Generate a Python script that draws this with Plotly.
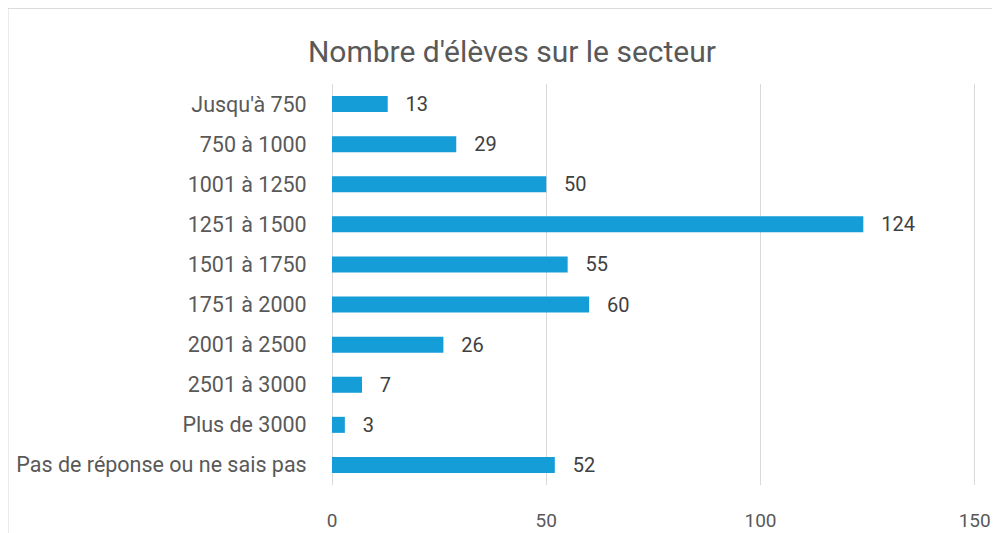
import plotly.graph_objects as go

categories = ["Jusqu'à 750", "750 à 1000", "1001 à 1250", "1251 à 1500", "1501 à 1750",
              "1751 à 2000", "2001 à 2500", "2501 à 3000", "Plus de 3000",
              "Pas de réponse ou ne sais pas"]
values = [13, 29, 50, 124, 55, 60, 26, 7, 3, 52]
tick_vals = [0, 50, 100, 150]

bar_color = "#159dd8"
text_color = "#595959"
font_family = "Roboto, Arial, sans-serif"

fig = go.Figure(go.Bar(
    y=categories, x=values, orientation="h",
    marker=dict(color=bar_color, line=dict(width=0)),
    width=0.4,
    text=values,
    texttemplate="\u00a0\u00a0\u00a0%{x}",
    textposition="outside",
    constraintext="none",
    textfont=dict(size=20, color="#404040", family=font_family),
    cliponaxis=False,
))

# page body has an 8px margin: figure occupies 8..1000 x 8..533
fig.update_layout(
    width=992, height=525,
    margin=dict(l=324, r=24, t=76, b=48, autoexpand=False),
    paper_bgcolor="white", plot_bgcolor="white",
    title=dict(text="Nombre d'élèves sur le secteur", x=0.508, xanchor="center",
               y=0.918, yanchor="middle",
               font=dict(size=30, color=text_color, family=font_family)),
    font=dict(family=font_family, color=text_color),
    showlegend=False,
    xaxis=dict(range=[0, 150.3], tickvals=tick_vals, showgrid=True, gridcolor="#d9d9d9",
               gridwidth=1, zeroline=True, zerolinecolor="#d9d9d9", zerolinewidth=1,
               tickfont=dict(size=19, color=text_color), ticks="", ticklen=0,
               showline=False, fixedrange=True, automargin=False),
    yaxis=dict(autorange="reversed", tickfont=dict(size=21.5, color=text_color),
               ticks="outside", ticklen=20, tickcolor="rgba(0,0,0,0)",
               showgrid=False, showline=False, automargin=False),
    shapes=[
        dict(type="line", xref="paper", yref="paper", x0=-0.504, x1=1.04, y0=1.19, y1=1.19,
             line=dict(color="#d0d0d0", width=2)),
        dict(type="line", xref="paper", yref="paper", x0=-0.504, x1=-0.504, y0=1.19, y1=-0.13,
             line=dict(color="#d0d0d0", width=2)),
    ],
)
fig.update_xaxes(ticklabelstandoff=22)

fig.write_html("out.html")
